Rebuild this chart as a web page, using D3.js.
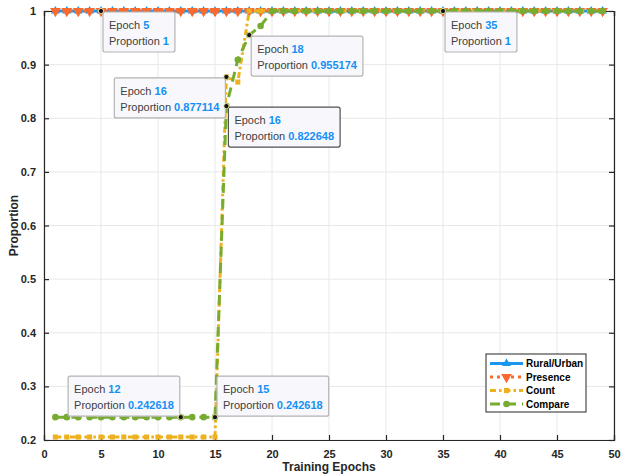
<!DOCTYPE html>
<html><head><meta charset="utf-8">
<script src="https://cdn.jsdelivr.net/npm/d3@7"></script>
<style>body{margin:0;background:#fff}svg{display:block;font-family:"Liberation Sans",Arial,sans-serif}</style>
</head><body><svg id="c" width="621" height="475"></svg>
<script>
const epochs = d3.range(1, 50);
const seriesNames = ["Rural/Urban", "Presence", "Count", "Compare"];
const ruralUrban = epochs.map(() => 1);
const presence = epochs.map(() => 1);
const countVals = [0.2055,0.2055,0.2055,0.2055,0.2055,0.2055,0.2055,0.2055,0.2055,0.2055,0.2055,0.2055,0.2055,0.2055,0.2055,
  0.877114,0.8675,1,1,1,1,1,1,1,1,1,1,1,1,1,1,1,1,1,1,1,1,1,1,1,1,1,1,1,1,1,1,1,1];
const compareVals = [0.242618,0.242618,0.242618,0.242618,0.242618,0.242618,0.242618,0.242618,0.242618,0.242618,0.242618,0.242618,0.242618,0.242618,0.242618,
  0.822648,0.909,0.955174,0.972,1,1,1,1,1,1,1,1,1,1,1,1,1,1,1,1,1,1,1,1,1,1,1,1,1,1,1,1,1,1];
const xTicks = [0,5,10,15,20,25,30,35,40,45,50];
const yTicks = [0.2,0.3,0.4,0.5,0.6,0.7,0.8,0.9,1];
const yTickLabels = ["0.2","0.3","0.4","0.5","0.6","0.7","0.8","0.9","1"];
// data tips: epoch, value, series index
const tipEpochs = [5, 35, 18, 16, 16, 12, 15];
const tipValues = [1, 1, 0.955174, 0.877114, 0.822648, 0.242618, 0.242618];
const tipLabels = ["1", "1", "0.955174", "0.877114", "0.822648", "0.242618", "0.242618"];
const tipCorner = ["br", "br", "br", "bl", "br", "tl", "tr"];
const tipSelected = [false, false, false, false, true, false, false];

const svg = d3.select("#c");
const L = 44, R = 614, T = 11, B = 440;
const x = d3.scaleLinear().domain([0, 50]).range([L, R]);
const y = d3.scaleLinear().domain([0.2, 1]).range([B, T]);
const axisColor = "#262626";

// grid
const g = svg.append("g");
g.selectAll(".gx").data(xTicks).enter().append("line")
  .attr("x1", d => x(d)).attr("x2", d => x(d)).attr("y1", T).attr("y2", B)
  .attr("stroke", "#e8e8e8").attr("stroke-width", 1);
g.selectAll(".gy").data(yTicks).enter().append("line")
  .attr("y1", d => y(d)).attr("y2", d => y(d)).attr("x1", L).attr("x2", R)
  .attr("stroke", "#e8e8e8").attr("stroke-width", 1);

// axes with inward ticks
const ax = svg.append("g");
ax.append("g").attr("transform", `translate(0,${B})`)
  .call(d3.axisBottom(x).tickValues(xTicks).tickSize(-5).tickPadding(10).tickFormat(d3.format("d")));
ax.append("g").attr("transform", `translate(0,${T})`)
  .call(d3.axisTop(x).tickValues(xTicks).tickSize(-5).tickFormat(""));
ax.append("g").attr("transform", `translate(${L},0)`)
  .call(d3.axisLeft(y).tickValues(yTicks).tickSize(-5).tickPadding(8).tickFormat((d, i) => yTickLabels[i]));
ax.append("g").attr("transform", `translate(${R},0)`)
  .call(d3.axisRight(y).tickValues(yTicks).tickSize(-5).tickFormat(""));
ax.selectAll(".domain").attr("stroke", axisColor).attr("stroke-width", 1.2);
ax.selectAll(".tick line").attr("stroke", axisColor).attr("stroke-width", 1.2);
ax.selectAll(".tick text").attr("fill", axisColor).attr("font-size", 11).attr("font-weight", "bold")
  .attr("font-family", "Liberation Sans, Arial, sans-serif");

svg.append("text").attr("x", (L + R) / 2).attr("y", 471).attr("text-anchor", "middle")
  .attr("font-size", 12).attr("font-weight", "bold").attr("fill", axisColor).text("Training Epochs");
svg.append("text").attr("transform", `translate(18,${(T + B) / 2}) rotate(-90)`).attr("text-anchor", "middle")
  .attr("font-size", 12).attr("font-weight", "bold").attr("fill", axisColor).text("Proportion");

// series
const colors = ["#1A96F0", "#FA6A2E", "#EDB120", "#77AC30"];
const dashes = [null, "3,4", "6,3,2.5,3", "10,6"];
const seriesData = [ruralUrban, presence, countVals, compareVals];
const symbols = [
  d3.symbol().type(d3.symbolTriangle).size(34),
  d3.symbol().type(d3.symbolTriangle).size(50),
  d3.symbol().type(d3.symbolSquare).size(26),
  d3.symbol().type(d3.symbolCircle).size(34)
];
const rotations = [0, 180, 0, 0];
const line = d3.line().x((d, i) => x(epochs[i])).y(d => y(d));
const plot = svg.append("g");
seriesData.forEach((vals, s) => {
  plot.append("path").datum(vals).attr("d", line).attr("fill", "none")
    .attr("stroke", colors[s]).attr("stroke-width", 3)
    .attr("stroke-dasharray", dashes[s]);
  plot.selectAll(".m" + s).data(vals).enter().append("path")
    .attr("d", symbols[s])
    .attr("transform", (d, i) => `translate(${x(epochs[i])},${y(d)}) rotate(${rotations[s]})`)
    .attr("fill", colors[s]);
});

// data tips
const tips = svg.append("g");
tipEpochs.forEach((e, i) => {
  const px = x(e), py = y(tipValues[i]);
  const grp = tips.append("g");
  const t1 = grp.append("text").attr("font-size", 11).attr("fill", "#404040");
  t1.append("tspan").text("Epoch ");
  t1.append("tspan").attr("fill", "#1590F5").attr("font-weight", "bold").text(String(e));
  const t2 = grp.append("text").attr("font-size", 11).attr("fill", "#404040");
  t2.append("tspan").text("Proportion ");
  t2.append("tspan").attr("fill", "#1590F5").attr("font-weight", "bold").text(tipLabels[i]);
  const w = Math.max(t1.node().getComputedTextLength(), t2.node().getComputedTextLength()) + 12;
  const h = 40;
  const c = tipCorner[i];
  const bx = c[1] === "r" ? px + 2 : px - 1 - w;
  const by = c[0] === "b" ? py + 1 : py - 1 - h;
  grp.insert("rect", "text").attr("x", bx).attr("y", by).attr("width", w).attr("height", h)
    .attr("rx", 2).attr("fill", "#F8F8FC")
    .attr("stroke", tipSelected[i] ? "#505050" : "#B4B4B4").attr("stroke-width", 1.2);
  t1.attr("x", bx + 6).attr("y", by + 17);
  t2.attr("x", bx + 6).attr("y", by + 33);
  tips.append("circle").attr("cx", px).attr("cy", py).attr("r", 2.6).attr("fill", "#111")
    .attr("stroke", "#fff7c0").attr("stroke-width", 0.8);
});

// legend
const lg = svg.append("g");
const lx = 486, ly = 354, lw = 100, lh = 58;
lg.append("rect").attr("x", lx).attr("y", ly).attr("width", lw).attr("height", lh)
  .attr("fill", "#fff").attr("stroke", "#262626").attr("stroke-width", 1);
seriesNames.forEach((n, s) => {
  const yy = ly + 9.5 + s * 13.5;
  lg.append("line").attr("x1", lx + 4).attr("x2", lx + 37).attr("y1", yy).attr("y2", yy)
    .attr("stroke", colors[s]).attr("stroke-width", 3).attr("stroke-dasharray", dashes[s]);
  lg.append("path").attr("d", symbols[s])
    .attr("transform", `translate(${lx + 20.5},${yy}) rotate(${rotations[s]})`).attr("fill", colors[s]);
  lg.append("text").attr("x", lx + 40).attr("y", yy + 3.5).attr("font-size", 10).attr("font-weight", "bold")
    .attr("fill", "#000").text(n);
});
</script></body></html>
